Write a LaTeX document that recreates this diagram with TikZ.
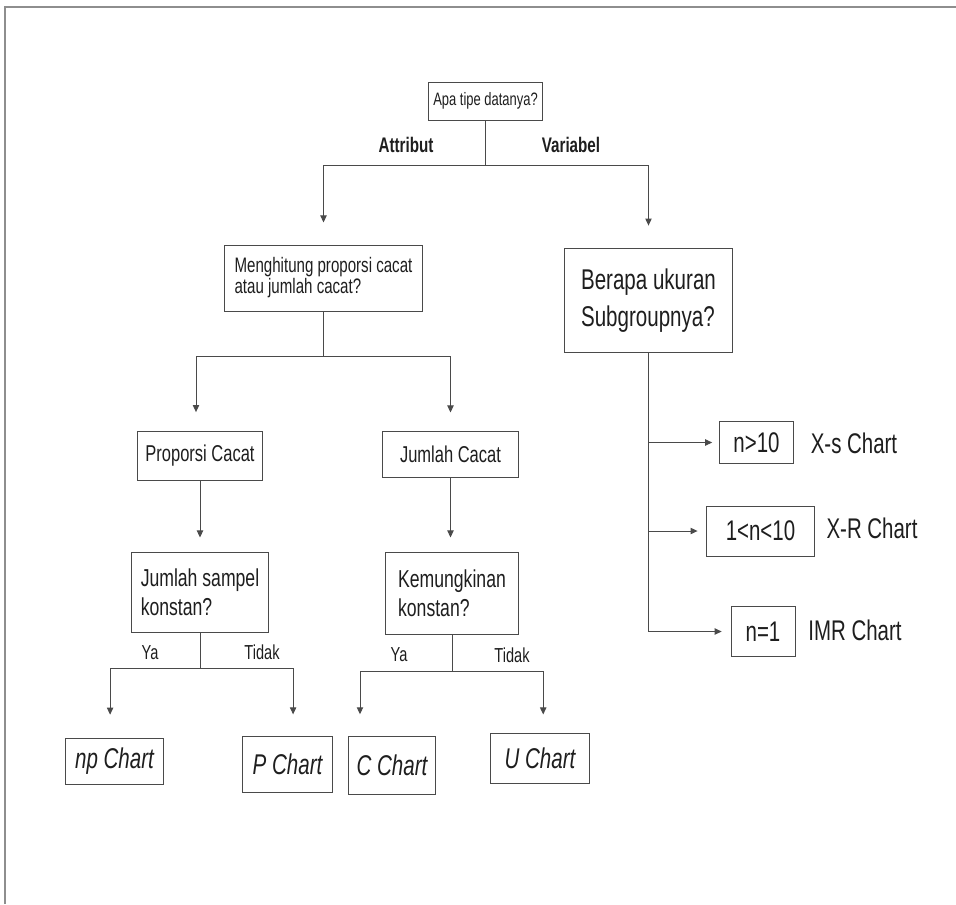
\documentclass[tikz,border=0pt]{standalone}
\usepackage{fontspec}
\setmainfont{Liberation Sans}[FakeStretch=0.72]
\usetikzlibrary{arrows.meta}

\definecolor{linegray}{HTML}{4A4A4A}
\definecolor{framegray}{HTML}{8E8E8E}
\definecolor{textgray}{HTML}{1E1E1E}

\tikzset{
  box/.style={draw=linegray, line width=0.7pt, rectangle, inner sep=0pt, text=textgray},
  conn/.style={draw=linegray, line width=0.7pt},
  arrow/.style={conn, -{Triangle[length=5pt,width=4.5pt]}},
  lbl/.style={inner sep=0pt, text=textgray}
}

\begin{document}
\begin{tikzpicture}[x=0.025cm,y=-0.025cm]
            \useasboundingbox (0,0) rectangle (956,904);
            % frame
            \draw [framegray, line width=1.4pt] (5,904) -- (5,7) -- (956,7);
            % top question
            \node [box, minimum width=2.83cm, minimum height=0.95cm, font=\fontsize{12.8}{14}\selectfont] (tipe) at (485.5,101) {Apa tipe datanya?};
            \node [lbl, font=\fontsize{15}{16}\selectfont\bfseries] (attribut) at (406,145) {Attribut};
            \node [lbl, font=\fontsize{15}{16}\selectfont\bfseries] (variabel) at (571,145) {Variabel};
            % attribut side
            \node [box, minimum width=4.93cm, minimum height=1.65cm, align=left, font=\fontsize{14.9}{13.8}\selectfont] (hitung) at (323.5,278) {Menghitung proporsi cacat\\atau jumlah cacat?};
            \node [box, minimum width=3.1cm, minimum height=1.23cm, font=\fontsize{16.3}{18}\selectfont] (proporsi) at (200,456) {Proporsi Cacat};
            \node [box, minimum width=3.38cm, minimum height=1.15cm, font=\fontsize{16.3}{18}\selectfont] (jumlah) at (450.5,454) {Jumlah Cacat};
            \node [box, minimum width=3.4cm, minimum height=2.0cm, align=left, font=\fontsize{17.4}{20.6}\selectfont] (sampel) at (200,592) {Jumlah sampel\\konstan?};
            \node [box, minimum width=3.3cm, minimum height=2.05cm, align=left, font=\fontsize{17.4}{20.6}\selectfont] (mungkin) at (452,593) {Kemungkinan\\konstan?};
            \node [lbl, font=\fontsize{14.4}{16}\selectfont] (ya1) at (150,653) {Ya};
            \node [lbl, font=\fontsize{14.4}{16}\selectfont] (tidak1) at (262,652) {Tidak};
            \node [lbl, font=\fontsize{14.4}{16}\selectfont] (ya2) at (399,655) {Ya};
            \node [lbl, font=\fontsize{14.4}{16}\selectfont] (tidak2) at (512,655) {Tidak};
            % charts
            \node [box, minimum width=2.43cm, minimum height=1.15cm, font=\fontsize{20.3}{22}\selectfont\itshape] (np) at (114.5,761) {np Chart};
            \node [box, minimum width=2.23cm, minimum height=1.38cm, font=\fontsize{20.3}{22}\selectfont\itshape] (pchart) at (287.5,764.5) {P Chart};
            \node [box, minimum width=2.15cm, minimum height=1.45cm, font=\fontsize{20.3}{22}\selectfont\itshape] (cchart) at (392,765) {C Chart};
            \node [box, minimum width=2.45cm, minimum height=1.25cm, font=\fontsize{20.3}{22}\selectfont\itshape] (uchart) at (540,758) {U Chart};
            % variabel side
            \node [box, minimum width=4.18cm, minimum height=2.58cm, align=left, font=\fontsize{20.3}{26.3}\selectfont] (ukuran) at (648.5,300.5) {Berapa ukuran\\Subgroupnya?};
            \node [box, minimum width=1.83cm, minimum height=1.03cm, font=\fontsize{20.2}{22}\selectfont] (nbesar) at (756.5,442.5) {n>10};
            \node [box, minimum width=2.68cm, minimum height=1.25cm, font=\fontsize{20.2}{22}\selectfont] (nsedang) at (760.5,531) {1<n<10};
            \node [box, minimum width=1.6cm, minimum height=1.23cm, font=\fontsize{20.2}{22}\selectfont] (nsatu) at (763,631.5) {n=1};
            \node [lbl, font=\fontsize{20.2}{22}\selectfont] (xs) at (854,443) {X-s Chart};
            \node [lbl, font=\fontsize{20.2}{22}\selectfont] (xr) at (872,528) {X-R Chart};
            \node [lbl, font=\fontsize{20.2}{22}\selectfont] (imr) at (855,630) {IMR Chart};
            % branch points
            \coordinate (tsplit) at (485.5,165);
            \coordinate (hsplit) at (323.5,356);
            \coordinate (ssplit) at (200,668);
            \coordinate (msplit) at (452,671);
            % connectors
            \draw [conn] (tipe) -- (tsplit);
            \draw [arrow, shorten >=0.55cm] (tsplit) -| (hitung.north);
            \draw [arrow, shorten >=0.57cm] (tsplit) -| (ukuran.north);
            \draw [conn] (hitung) -- (hsplit);
            \draw [arrow, shorten >=0.47cm] (hsplit) -| ([xshift=-0.1cm]proporsi.north);
            \draw [arrow, shorten >=0.45cm] (hsplit) -| (jumlah.north);
            \draw [arrow, shorten >=0.35cm] (proporsi) -- (sampel);
            \draw [arrow, shorten >=0.35cm] (jumlah) -- (jumlah |- mungkin.north);
            \draw [conn] (sampel) -- (ssplit);
            \draw [arrow, shorten >=0.57cm] (ssplit) -| ([xshift=-0.11cm]np.north);
            \draw [arrow, shorten >=0.55cm] (ssplit) -| ([xshift=0.14cm]pchart.north);
            \draw [conn] (mungkin) -- (msplit);
            \draw [arrow, shorten >=0.53cm] (msplit) -| ([xshift=-0.8cm]cchart.north);
            \draw [arrow, shorten >=0.45cm] (msplit) -| ([xshift=0.08cm]uchart.north);
            \draw [conn] (ukuran.south) -- (ukuran.south |- nsatu.west);
            \draw [arrow, shorten >=0.18cm] (ukuran.south |- nbesar.west) -- (nbesar.west);
            \draw [arrow, shorten >=0.22cm] (ukuran.south |- nsedang.west) -- (nsedang.west);
            \draw [arrow, shorten >=0.22cm] (ukuran.south |- nsatu.west) -- (nsatu.west);
         \end{tikzpicture}
\end{document}
